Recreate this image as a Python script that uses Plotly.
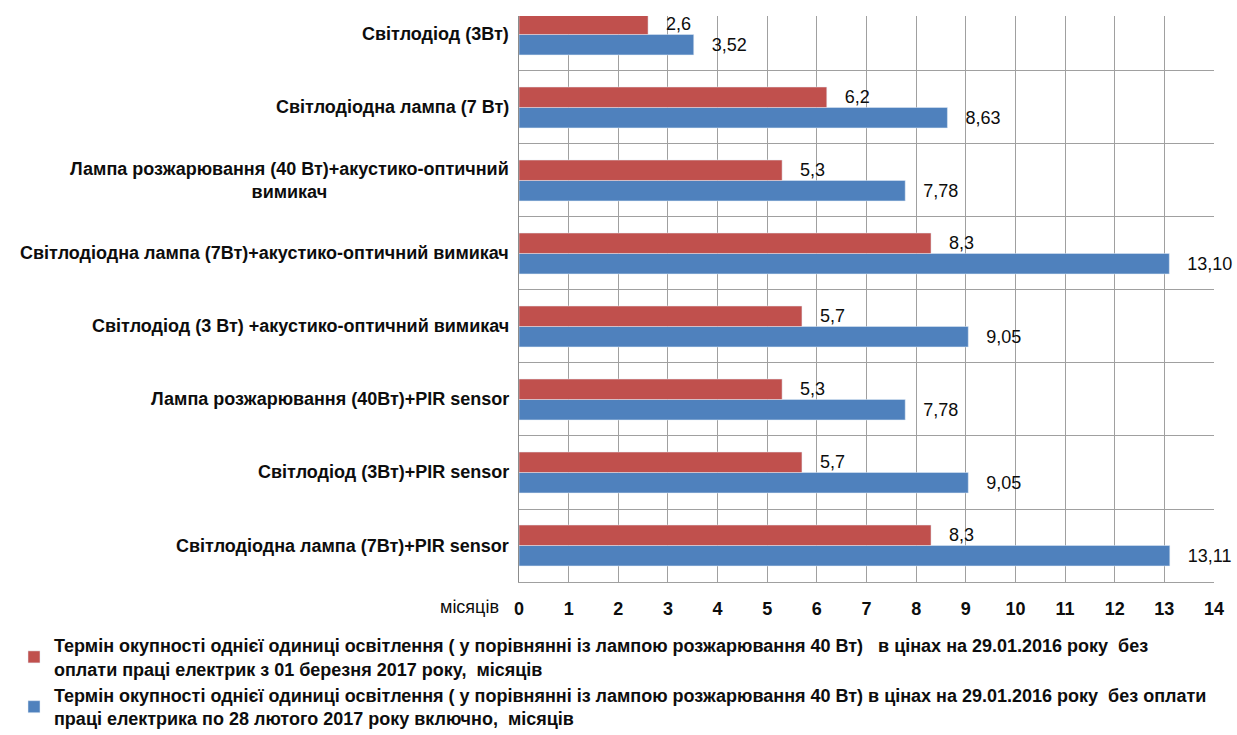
import plotly.graph_objects as go

# Categories listed from top to bottom as in the reference
categories = [
    "Світлодіод (3Вт)",
    "Світлодіодна лампа (7 Вт)",
    "Лампа розжарювання (40 Вт)+акустико-оптичний<br>вимикач",
    "Світлодіодна лампа (7Вт)+акустико-оптичний вимикач",
    "Світлодіод (3 Вт) +акустико-оптичний вимикач",
    "Лампа розжарювання (40Вт)+PIR sensor",
    "Світлодіод (3Вт)+PIR sensor",
    "Світлодіодна лампа (7Вт)+PIR sensor",
]
red_values = [2.6, 6.2, 5.3, 8.3, 5.7, 5.3, 5.7, 8.3]
blue_values = [3.52, 8.63, 7.78, 13.10, 9.05, 7.78, 9.05, 13.11]
red_labels = ["2,6", "6,2", "5,3", "8,3", "5,7", "5,3", "5,7", "8,3"]
blue_labels = ["3,52", "8,63", "7,78", "13,10", "9,05", "7,78", "9,05", "13,11"]
x_ticks = list(range(0, 15))

red_name = ("Термін окупності однієї одиниці освітлення ( у порівнянні із лампою розжарювання 40 Вт)   в цінах на 29.01.2016 року  без"
            "<br>оплати праці електрик з 01 березня 2017 року,  місяців")
blue_name = ("Термін окупності однієї одиниці освітлення ( у порівнянні із лампою розжарювання 40 Вт) в цінах на 29.01.2016 року  без оплати"
             "<br>праці електрика по 28 лютого 2017 року включно,  місяців")

RED = "#C0504D"
BLUE = "#4F81BD"
GRID = "#A0A0A0"
FONT = "Liberation Sans"
TXT = "#0D0D0D"

n = len(categories)
ypos = [n - 1 - i for i in range(n)]  # top category at highest position
pad = "\u00a0\u00a0\u00a0"

fig = go.Figure()
fig.add_trace(go.Bar(
    y=ypos, x=blue_values, orientation="h", name=blue_name,
    marker=dict(color=BLUE), text=[pad + t for t in blue_labels],
    textposition="outside", cliponaxis=False,
    textfont=dict(family=FONT, size=18, color=TXT),
    legendrank=2, legendgroup="b",
))
fig.add_trace(go.Bar(
    y=ypos, x=red_values, orientation="h", name=red_name,
    marker=dict(color=RED), text=[pad + t for t in red_labels],
    textposition="outside", cliponaxis=False,
    textfont=dict(family=FONT, size=18, color=TXT),
    legendrank=1, legendgroup="r",
))

for yp, cat in zip(ypos, categories):
    fig.add_annotation(
        x=0, xref="paper", y=yp, yref="y", text=cat, showarrow=False,
        xanchor="right", yanchor="middle", align="center", xshift=-8,
        font=dict(family=FONT, size=18, color=TXT, weight="bold"),
    )

fig.add_annotation(
    x=0, xref="paper", y=0, yref="paper", text="місяців", showarrow=False,
    xanchor="right", yanchor="middle", xshift=-18, yshift=-25,
    font=dict(family=FONT, size=18, color=TXT),
)

fig.update_layout(
    width=1237, height=735,
    margin=dict(l=519, r=23, t=16, b=153, autoexpand=False),
    paper_bgcolor="white", plot_bgcolor="white",
    barmode="group", bargap=0.44, bargroupgap=0,
    font=dict(family=FONT, size=18, color=TXT),
    showlegend=True,
    legend=dict(
        xref="container", yref="container",
        x=14 / 1237, y=1 - 627 / 735, xanchor="left", yanchor="top",
        orientation="v", tracegroupgap=0, itemwidth=30,
        font=dict(family=FONT, size=18, color=TXT, weight="bold"),
        bgcolor="rgba(0,0,0,0)",
    ),
    xaxis=dict(
        range=[0, 14], tickvals=x_ticks, ticktext=[str(v) for v in x_ticks],
        showgrid=True, gridcolor=GRID, gridwidth=1, zeroline=False,
        showline=True, linecolor=GRID, linewidth=1,
        ticks="", ticklabelstandoff=10,
        tickfont=dict(family=FONT, size=18, color=TXT, weight="bold"),
        fixedrange=True,
    ),
    yaxis=dict(
        range=[-0.5, 7.253], tickvals=ypos, showticklabels=False,
        showgrid=False, zeroline=False,
        showline=True, linecolor="#8C8C8C", linewidth=1,
        minor=dict(tick0=0.5, dtick=1, showgrid=True, gridcolor=GRID, gridwidth=1),
        fixedrange=True,
    ),
)

fig.write_html("out.html")
